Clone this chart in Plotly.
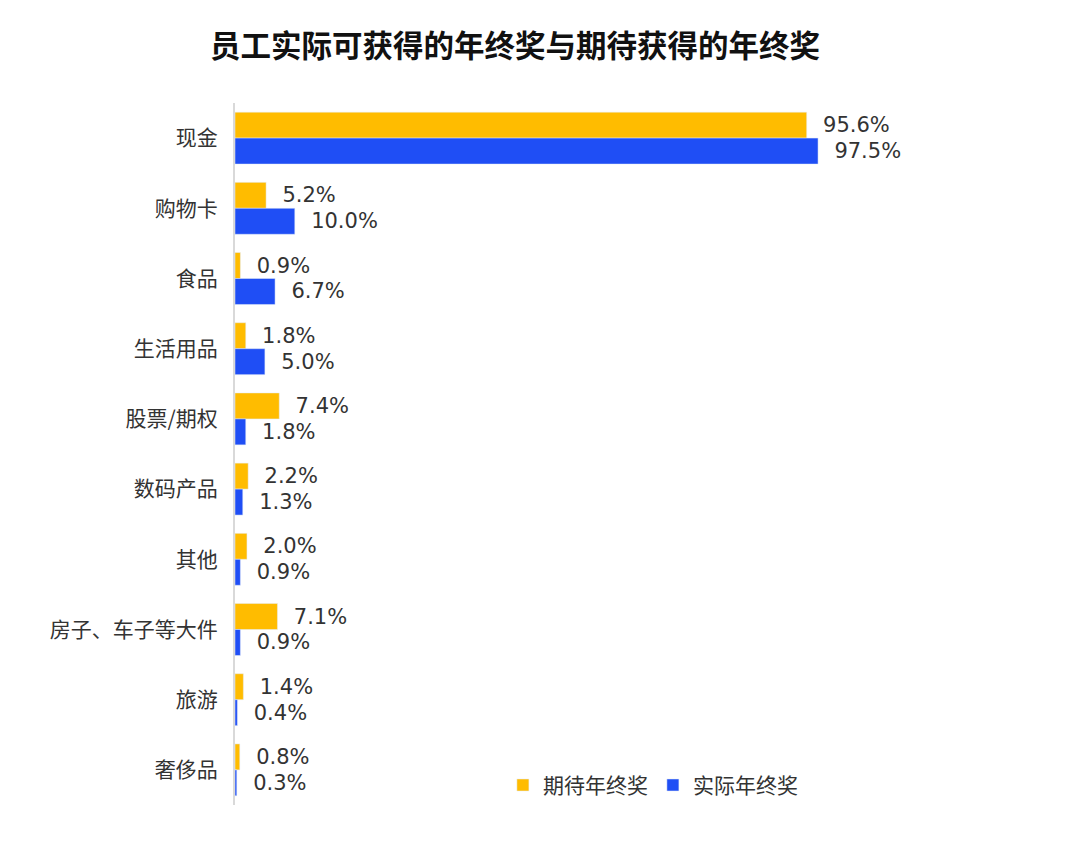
import plotly.graph_objects as go

# categories top to bottom
CATEGORIES = ["现金", "购物卡", "食品", "生活用品", "股票/期权", "数码产品", "其他",
              "房子、车子等大件", "旅游", "奢侈品"]
EXPECTED = [95.6, 5.2, 0.9, 1.8, 7.4, 2.2, 2.0, 7.1, 1.4, 0.8]
ACTUAL = [97.5, 10.0, 6.7, 5.0, 1.8, 1.3, 0.9, 0.9, 0.4, 0.3]

FONT = "Noto Sans CJK SC, Noto Sans, sans-serif"
LABEL_FONT = "DejaVu Sans, sans-serif"

fig = go.Figure()
for name, values, color in [
    ("期待年终奖", EXPECTED, "#FFBC00"),
    ("实际年终奖", ACTUAL, "#1F4EF5"),
]:
    fig.add_bar(
        name=name,
        y=CATEGORIES,
        x=values,
        orientation="h",
        marker_color=color,
        texttemplate="  %{x:.1f}%",
        textposition="outside",
        constraintext="none",
        textfont=dict(size=21, color="#333333", family=LABEL_FONT),
        cliponaxis=False,
    )

fig.update_layout(
    width=1080,
    height=846,
    barmode="group",
    bargap=0.26,
    bargroupgap=0,
    plot_bgcolor="white",
    paper_bgcolor="white",
    font=dict(family=FONT, size=20, color="#333333"),
    title=dict(
        text="<b>员工实际可获得的年终奖与期待获得的年终奖</b>",
        x=507 / 1080,
        xanchor="center",
        y=1 - 38 / 846,
        yanchor="middle",
        font=dict(size=30.5, color="#111111"),
    ),
    margin=dict(l=227, r=255, t=95, b=49),
    xaxis=dict(range=[0, 100], visible=False, showgrid=False),
    yaxis=dict(
        autorange="reversed",
        showline=True,
        linecolor="#D9D9D9",
        linewidth=2,
        ticks="",
        ticklabelstandoff=11,
        showgrid=False,
        tickfont=dict(size=21, color="#333333"),
    ),
    legend=dict(
        orientation="h",
        x=0.448,
        xanchor="left",
        y=0.028,
        yanchor="middle",
        font=dict(size=21, color="#333333"),
        itemwidth=30,
        traceorder="normal",
    ),
    showlegend=True,
)
fig.write_html("out.html")
